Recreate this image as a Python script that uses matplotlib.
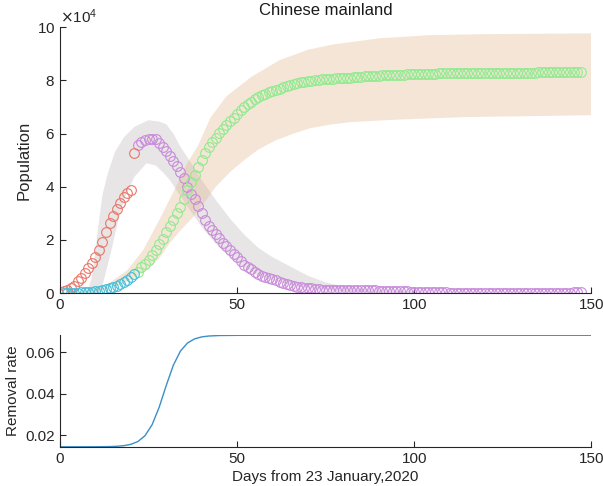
"""SIR fit for the Chinese mainland: active / removed cases and removal rate."""

import matplotlib
matplotlib.use("Agg")
import matplotlib.pyplot as plt

# ---------------------------------------------------------------------------
# Data (day 1 = 23 January 2020)
# ---------------------------------------------------------------------------
FIT_DAYS = list(range(1, 22))
FIT_INFECTED = [771, 1208, 1870, 2613, 4349, 5739, 7417, 9308, 11289, 13748,
                16369, 19381, 22942, 26302, 28985, 31774, 33738, 35982, 37626,
                38800, 52526]
FIT_REMOVED = [59, 79, 105, 131, 166, 235, 294, 384, 502, 632, 836, 1057, 1382,
               1716, 2176, 2772, 3460, 4189, 5012, 5853, 7278]

TEST_DAYS = list(range(22, 148))
TEST_INFECTED = [
    55748, 56873, 57416, 57934, 58016, 57805, 56303, 54965, 53284, 51606,
    49824, 47672, 45604, 43258, 39919, 37414, 35329, 32652, 30004, 27433,
    25352, 23784, 22177, 20533, 19016, 17721, 16145, 14831, 13526, 12094,
    10734, 9898, 8976, 8056, 7263, 6569, 6013, 5549, 5120, 4735,
    4287, 3947, 3460, 3128, 2691, 2466, 2161, 2004, 1863, 1727,
    1562, 1376, 1299, 1242, 1190, 1160, 1116, 1089, 1138, 1156,
    1170, 1138, 1107, 1081, 1058, 1040, 1024, 1000, 959, 915,
    838, 801, 723, 648, 647, 647, 619, 585, 565, 531,
    473, 460, 414, 390, 329, 275, 260, 220, 203, 148,
    115, 101, 91, 86, 82, 84, 85, 79, 82, 78,
    72, 69, 68, 70, 63, 61, 63, 66, 63, 72,
    69, 69, 71, 65, 61, 55, 53, 52, 71, 82,
    106, 135, 182, 216, 246, 279,
]
TEST_REMOVED = [
    8103, 9619, 11084, 12614, 14420, 16380, 18273, 20500, 23004, 25330,
    27326, 29986, 32460, 35239, 38905, 41837, 44495, 47374, 50147, 52837,
    55057, 56768, 58474, 60162, 61719, 63033, 64633, 65962, 67287, 68730,
    70110, 70962, 71905, 72838, 73665, 74398, 74995, 75505, 75973, 76436,
    76931, 77338, 77880, 78266, 78748, 79004, 79357, 79550, 79726, 79893,
    80087, 80312, 80417, 80506, 80550, 80629, 80724, 80813, 80819, 80896,
    80990, 81089, 81196, 81260, 81634, 81693, 81723, 81763, 81829, 81873,
    81960, 81997, 82104, 82183, 82190, 82202, 82239, 82273, 82301, 82343,
    82404, 82420, 82469, 82497, 82557, 82616, 82643, 82681, 82702, 82770,
    82813, 82835, 82851, 82858, 82866, 82867, 82874, 82887, 82887, 82894,
    82902, 82907, 82912, 82913, 82922, 82929, 82932, 82933, 82941, 82943,
    82950, 82955, 82958, 82968, 82977, 82986, 82990, 82993, 82994, 82995,
    82998, 83000, 83003, 83005, 83008, 83011,
]

# confidence band of infected (grey)
I_HI_DAYS = [0, 6, 8, 9, 10, 11, 12, 13.5, 15.5, 18, 21, 25, 28, 30, 32, 34,
             37, 40, 44, 48, 52, 56, 60, 65, 70, 75, 80, 90, 100, 110, 150]
I_HI = [0, 300, 1500, 6000, 16000, 27000, 37000, 45000, 53000, 58500, 62500,
        65000, 64500, 63500, 60000, 55000, 49000, 42500, 35000, 28000, 22000,
        17000, 13500, 10000, 6500, 4000, 2500, 1200, 500, 200, 0]
I_LO_DAYS = [0, 11.5, 12.6, 14.5, 16.4, 18.3, 21, 24.4, 27, 29, 31, 33, 36,
             40, 44, 48, 52, 56, 60, 65, 70, 80, 90, 150]
I_LO = [0, 0, 6000, 16000, 27000, 36000, 43700, 48800, 48000, 45500, 42500,
        38500, 32500, 25000, 18500, 13500, 9500, 6500, 4800, 3000, 1800, 600,
        200, 0]

# confidence band of removed (peach)
R_HI_DAYS = [0, 5, 10, 14, 19, 23.5, 28, 32, 36, 39, 42.5, 47, 54, 62, 70,
             77, 90, 104, 120, 150]
R_HI = [0, 300, 1500, 3800, 8600, 16200, 27400, 38000, 49000, 55500, 66000,
        74000, 81300, 87600, 91500, 93500, 95800, 97000, 97400, 97700]
R_LO_DAYS = [0, 10, 15, 20, 25, 28, 31, 34, 37.6, 41, 44, 48, 52, 56, 61, 66,
             70.6, 76, 82, 96, 115, 150]
R_LO = [0, 700, 2000, 5000, 9000, 13000, 18800, 23500, 28600, 34500, 40000,
        45500, 50000, 54000, 57500, 60000, 62000, 63300, 64300, 65300, 66200,
        66900]

# removal rate (bottom panel)
RATE_DAYS = [0, 10, 14, 16, 18, 20, 22, 24, 26, 28, 30, 32, 34, 36, 38, 40,
             42, 45, 50, 60, 80, 100, 150]
RATE = [0.0145, 0.01452, 0.01461, 0.01474, 0.01504, 0.01568, 0.01705,
        0.01985, 0.02512, 0.03353, 0.04403, 0.05376, 0.06058, 0.06449,
        0.06646, 0.06741, 0.06784, 0.06808, 0.06817, 0.0682, 0.0682, 0.0682,
        0.0682]

# ---------------------------------------------------------------------------
# Style
# ---------------------------------------------------------------------------
RED = "#E8776A"
CYAN = "#45BFDA"
PURPLE = "#C98BDB"
GREEN = "#8FEB8F"
AXIS_COLOR = "#262626"

plt.rcParams["font.family"] = ["Liberation Sans", "DejaVu Sans"]
plt.rcParams["font.size"] = 10


def style_axes(ax):
    for side in ("top", "right"):
        ax.spines[side].set_visible(False)
    for side in ("left", "bottom"):
        ax.spines[side].set_color(AXIS_COLOR)
        ax.spines[side].set_linewidth(0.8)
    ax.tick_params(direction="in", length=4, width=0.8, colors=AXIS_COLOR,
                   labelsize=11)


def main() -> None:
    fig = plt.figure(figsize=(6.03, 4.86), dpi=100)
    ax = fig.add_axes([0.0995, 0.397, 0.881, 0.547])
    ax2 = fig.add_axes([0.0995, 0.080, 0.881, 0.231])

    # bands
    ax.fill(I_HI_DAYS + I_LO_DAYS[::-1], I_HI + I_LO[::-1],
            color=(0.74, 0.71, 0.71), alpha=0.35, lw=0)
    ax.fill(R_HI_DAYS + R_LO_DAYS[::-1], R_HI + R_LO[::-1],
            color=(0.89, 0.71, 0.55), alpha=0.35, lw=0)

    mk = dict(ls="none", marker="o", ms=7, mfc="none", mew=0.8)
    ax.plot(TEST_DAYS, TEST_INFECTED, mec=PURPLE, **mk)
    ax.plot(TEST_DAYS, TEST_REMOVED, mec=GREEN, **mk)
    ax.plot(FIT_DAYS, FIT_INFECTED, mec=RED, **mk)
    ax.plot(FIT_DAYS, FIT_REMOVED, mec=CYAN, **mk)

    ax.set_xlim(0, 150)
    ax.set_ylim(0, 1e5)
    ax.set_xticks([0, 50, 100, 150])
    ax.set_yticks([0, 2e4, 4e4, 6e4, 8e4, 1e5])
    ax.ticklabel_format(axis="y", style="sci", scilimits=(4, 4),
                        useMathText=True)
    ax.yaxis.get_offset_text().set_fontsize(11)
    ax.yaxis.get_offset_text().set_color(AXIS_COLOR)
    ax.set_ylabel("Population", fontsize=12, color=AXIS_COLOR)
    ax.set_title("Chinese mainland", fontsize=12, color="#1a1a1a", pad=9)
    style_axes(ax)

    ax2.plot(RATE_DAYS, RATE, color="#3A8FC8", lw=1.0)
    ax2.set_xlim(0, 150)
    ax2.set_ylim(0.01435, 0.0684)
    ax2.set_xticks([0, 50, 100, 150])
    ax2.set_yticks([0.02, 0.04, 0.06])
    ax2.set_ylabel("Removal rate", fontsize=11, color=AXIS_COLOR)
    ax2.set_xlabel("Days from 23 January,2020", fontsize=11,
                   color=AXIS_COLOR, labelpad=3)
    style_axes(ax2)

    fig.savefig("out.png", dpi=100)
    plt.close(fig)


if __name__ == "__main__":
    main()
